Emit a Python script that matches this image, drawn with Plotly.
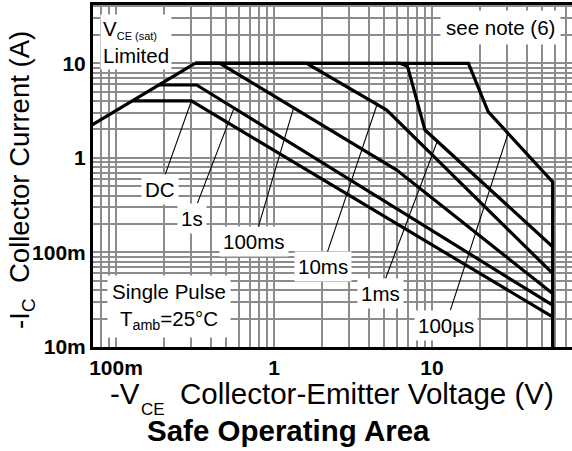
import math
import plotly.graph_objects as go

# ---------------- data ----------------
# VCE(sat) limited line (shared by all curves)
v_limit = [0.07, 0.316]
i_limit = [2.215, 10.0]

curve_names = ["DC", "1s", "100ms", "10ms", "1ms", "100µs"]
v_dc = [0.127, 0.30, 58.0]
i_dc = [4.0, 4.0, 0.0208]
v_1s = [0.187, 0.324, 58.0]
i_1s = [5.9, 5.9, 0.0277]
v_100ms = [0.316, 0.455, 5.98, 58.0]
i_100ms = [10.0, 10.0, 0.743, 0.0368]
v_10ms = [0.316, 1.61, 5.17, 58.0]
i_10ms = [10.0, 10.0, 3.2, 0.060]
v_1ms = [0.316, 6.27, 7.0, 9.03, 58.0]
i_1ms = [10.0, 10.0, 9.3, 1.97, 0.115]
v_100us = [0.316, 17.0, 22.7, 58.0, 58.0]
i_100us = [10.0, 10.0, 3.07, 0.558, 0.01]

# voltage on each curve that its label pointer touches
label_target_v = [0.30, 0.558, 1.33, 4.49, 10.8, 30.3]

x_tick_vals = [0.1, 1, 10]
x_tick_text = ["100m", "1", "10"]
y_tick_vals = [0.01, 0.1, 1, 10]
y_tick_text = ["10m", "100m", "1", "10"]

curves_v = [v_dc, v_1s, v_100ms, v_10ms, v_1ms, v_100us]
curves_i = [i_dc, i_1s, i_100ms, i_10ms, i_1ms, i_100us]

# ---------------- layout helpers ----------------
FONT = "Liberation Sans, Arial, sans-serif"
GRID = "#8c8c8c"
W, H = 572, 451
ML, MR, MT, MB = 93, 0, 5, 104
x_range = [-1.1456, 1.886]
y_range = [-2.0, 1.617]

# label text centres (log10 V, log10 I) -- layout positions
label_pos = [(-0.7215, -0.330), (-0.521, -0.637), (-0.1266, -0.886),
             (0.307, -1.150), (0.671, -1.431), (1.0854, -1.769)]


def interp_loglog(vs, is_, v):
    lv = math.log10(v)
    for k in range(len(vs) - 1):
        a, b = math.log10(vs[k]), math.log10(vs[k + 1])
        if a <= lv <= b and b > a:
            t = (lv - a) / (b - a)
            return math.log10(is_[k]) + t * (math.log10(is_[k + 1]) - math.log10(is_[k]))
    return math.log10(is_[-1])


fig = go.Figure()
fig.add_trace(go.Scatter(x=v_limit, y=i_limit, mode="lines",
                         line=dict(color="black", width=3.2), showlegend=False,
                         name="VCE(sat) limited", hoverinfo="skip"))
for name, vs, is_ in zip(curve_names, curves_v, curves_i):
    fig.add_trace(go.Scatter(x=vs, y=is_, mode="lines", name=name, hoverinfo="skip",
                             line=dict(color="black", width=3.2), showlegend=False))


def minor_vals(lo_exp, hi_exp):
    return [d * 10 ** e for e in range(lo_exp, hi_exp) for d in range(2, 10)]


TICKFONT = dict(family=FONT, size=21, color="black", weight="bold")
fig.update_xaxes(type="log", range=x_range, tickmode="array", tickvals=x_tick_vals,
                 ticktext=x_tick_text,
                 showgrid=True, gridcolor=GRID, gridwidth=2, ticks="",
                 minor=dict(tickmode="array", tickvals=minor_vals(-2, 2), showgrid=True,
                            gridcolor=GRID, gridwidth=2, ticks=""),
                 showline=True, linecolor="black", linewidth=3, mirror=True,
                 zeroline=False, tickangle=0, tickfont=TICKFONT)
fig.update_yaxes(type="log", range=y_range, tickmode="array", tickvals=y_tick_vals,
                 ticktext=y_tick_text,
                 showgrid=True, gridcolor=GRID, gridwidth=2, ticks="",
                 minor=dict(tickmode="array", tickvals=minor_vals(-2, 2), showgrid=True,
                            gridcolor=GRID, gridwidth=2, ticks=""),
                 showline=True, linecolor="black", linewidth=3, mirror=False,
                 zeroline=False, tickfont=TICKFONT)

LBL = dict(family=FONT, size=20.5, color="black")
ann = []
for name, vs, is_, tv, (lx, ly) in zip(curve_names, curves_v, curves_i, label_target_v, label_pos):
    ann.append(dict(x=math.log10(tv), y=interp_loglog(vs, is_, tv), xref="x", yref="y",
                    ax=lx, ay=ly, axref="x", ayref="y", text=name, showarrow=True,
                    arrowhead=0, arrowwidth=1.1, arrowcolor="black",
                    bgcolor="white", borderpad=3, font=LBL))


def px(xp):
    return (xp - ML) / (W - ML - MR)


def py(yp):
    return (H - MB - yp) / (H - MB - MT)


ann += [
    dict(xref="paper", yref="paper", x=px(100), y=py(14), xanchor="left", yanchor="top",
         text="V<sub><span style='font-size:11px'>CE (sat)</span></sub><br>Limited",
         align="left", showarrow=False, bgcolor="white", borderpad=2, font=LBL),
    dict(xref="paper", yref="paper", x=px(500), y=py(27.5), xanchor="center", yanchor="middle",
         text="see note (6)", showarrow=False, bgcolor="white", borderpad=5, font=LBL),
    dict(xref="paper", yref="paper", x=px(169), y=py(306), xanchor="center", yanchor="middle",
         text="Single Pulse<br>T<sub>amb</sub>=25°C", showarrow=False, bgcolor="white",
         borderpad=4, font=LBL),
    # y axis title
    dict(xref="paper", yref="paper", x=px(21), y=py(180), xanchor="center", yanchor="middle",
         text="-I<sub>C</sub>\u00a0\u00a0Collector Current (A)", textangle=-90, showarrow=False,
         font=dict(family=FONT, size=27.5, color="black")),
    # x axis title (three pieces for the low-set subscript)
    dict(xref="paper", yref="paper", x=px(108), y=py(393), xanchor="left", yanchor="middle",
         text="-V", showarrow=False, font=dict(family=FONT, size=29.5, color="black")),
    dict(xref="paper", yref="paper", x=px(139), y=py(409), xanchor="left", yanchor="middle",
         text="CE", showarrow=False, font=dict(family=FONT, size=17, color="black")),
    dict(xref="paper", yref="paper", x=px(178), y=py(393), xanchor="left", yanchor="middle",
         text="Collector-Emitter Voltage (V)", showarrow=False,
         font=dict(family=FONT, size=29.5, color="black")),
    dict(xref="paper", yref="paper", x=px(288), y=py(431), xanchor="center", yanchor="middle",
         text="<b>Safe Operating Area</b>", showarrow=False,
         font=dict(family=FONT, size=29.5, color="black")),
]

fig.update_layout(width=W, height=H, margin=dict(l=ML, r=MR, t=MT, b=MB),
                  paper_bgcolor="white", plot_bgcolor="white", annotations=ann,
                  showlegend=False, hovermode=False)

fig.write_html("out.html", config={"displayModeBar": False, "staticPlot": True},
               post_script="document.body.style.margin='0px';document.body.style.overflow='hidden';")
